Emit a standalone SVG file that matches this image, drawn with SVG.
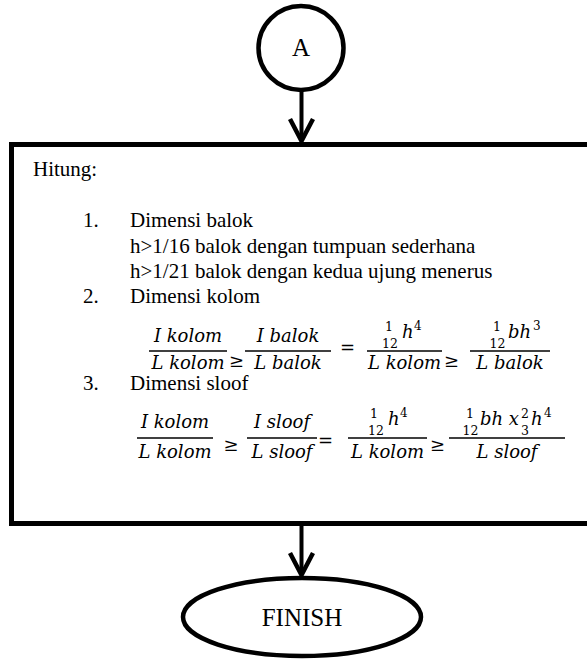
<svg xmlns="http://www.w3.org/2000/svg" width="587" height="660" viewBox="0 0 587 660">
  <style>
    .shape { fill: #ffffff; stroke: #000000; }
    .conn { stroke: #000000; stroke-width: 4; fill: none; }
    .body { font-family: "Liberation Serif", "Times New Roman", serif; font-size: 21px; fill: #000000; }
    .big { font-family: "Liberation Serif", "Times New Roman", serif; font-size: 25px; fill: #000000; }
    .m { font-family: "DejaVu Serif", serif; font-style: italic; font-size: 18px; fill: #000000; }
    .op { font-family: "DejaVu Serif", serif; font-size: 18px; fill: #000000; }
    .sm { font-family: "DejaVu Serif", serif; font-size: 12.5px; fill: #000000; }
    .sup { font-family: "DejaVu Serif", serif; font-size: 12px; fill: #000000; }
    .bar { stroke: #000000; stroke-width: 1.6; }
  </style>
  <defs>
    <marker id="chevron" viewBox="-26 -15 30 30" refX="0" refY="0" markerWidth="30" markerHeight="30" markerUnits="userSpaceOnUse" orient="auto">
      <path d="M-22,-11.5 L0,0 L-22,11.5" fill="none" stroke="#000000" stroke-width="4.5" stroke-linejoin="miter"/>
    </marker>
  </defs>

  <!-- connectors -->
  <g id="connectors">
    <line class="conn" x1="301.5" y1="91" x2="301.5" y2="141" marker-end="url(#chevron)"/>
    <line class="conn" x1="301.5" y1="525" x2="301.5" y2="575" marker-end="url(#chevron)"/>
  </g>

  <!-- connector A -->
  <g id="node-a">
    <ellipse class="shape" cx="301" cy="48" rx="42.5" ry="42" stroke-width="4.5"/>
    <text class="big" x="301" y="56" text-anchor="middle" font-size="24">A</text>
  </g>

  <!-- process box -->
  <g id="node-hitung">
    <rect class="shape" x="11.5" y="144.5" width="600" height="379" stroke-width="5"/>
    <text class="body" x="33" y="176">Hitung:</text>

    <text class="body" x="83" y="227">1.</text>
    <text class="body" x="130" y="227">Dimensi balok</text>
    <text class="body" x="130" y="253">h&gt;1/16 balok dengan tumpuan sederhana</text>
    <text class="body" x="130" y="278">h&gt;1/21 balok dengan kedua ujung menerus</text>

    <text class="body" x="83" y="303">2.</text>
    <text class="body" x="130" y="303">Dimensi kolom</text>

    <!-- column equation -->
    <g id="eq-kolom">
      <line class="bar" x1="149" y1="351" x2="227" y2="351"/>
      <text class="m" x="188" y="342" text-anchor="middle">I kolom</text>
      <text class="m" x="188" y="369" text-anchor="middle">L kolom</text>
      <text class="op" x="236.5" y="367" text-anchor="middle">≥</text>

      <line class="bar" x1="245" y1="351" x2="331" y2="351"/>
      <text class="m" x="288" y="342" text-anchor="middle">I balok</text>
      <text class="m" x="288" y="369" text-anchor="middle">L balok</text>
      <text class="op" x="347.5" y="354" text-anchor="middle">=</text>

      <line class="bar" x1="367" y1="351" x2="442" y2="351"/>
      <text class="sm" x="389" y="331" text-anchor="middle">1</text>
      <text class="sm" x="390" y="348" text-anchor="middle">12</text>
      <text class="m" x="402" y="338">h</text>
      <text class="sup" x="414" y="330">4</text>
      <text class="m" x="404.5" y="369" text-anchor="middle">L kolom</text>
      <text class="op" x="451.5" y="367" text-anchor="middle">≥</text>

      <line class="bar" x1="470" y1="351" x2="550" y2="351"/>
      <text class="sm" x="497" y="331" text-anchor="middle">1</text>
      <text class="sm" x="497.5" y="348" text-anchor="middle">12</text>
      <text class="m" x="508" y="338">bh</text>
      <text class="sup" x="533" y="330">3</text>
      <text class="m" x="510" y="369" text-anchor="middle">L balok</text>
    </g>

    <text class="body" x="83" y="390">3.</text>
    <text class="body" x="130" y="390">Dimensi sloof</text>

    <!-- tie beam equation -->
    <g id="eq-sloof">
      <line class="bar" x1="137" y1="438" x2="213" y2="438"/>
      <text class="m" x="175" y="428" text-anchor="middle">I kolom</text>
      <text class="m" x="175" y="458" text-anchor="middle">L kolom</text>
      <text class="op" x="231" y="451" text-anchor="middle">≥</text>

      <line class="bar" x1="247" y1="438" x2="317" y2="438"/>
      <text class="m" x="282" y="428" text-anchor="middle">I sloof</text>
      <text class="m" x="282" y="458" text-anchor="middle">L sloof</text>
      <text class="op" x="325.5" y="447" text-anchor="middle">=</text>

      <line class="bar" x1="348" y1="438" x2="427" y2="438"/>
      <text class="sm" x="374" y="418" text-anchor="middle">1</text>
      <text class="sm" x="376" y="435" text-anchor="middle">12</text>
      <text class="m" x="388" y="425">h</text>
      <text class="sup" x="400" y="417">4</text>
      <text class="m" x="387.5" y="458" text-anchor="middle">L kolom</text>
      <text class="op" x="437.5" y="451" text-anchor="middle">≥</text>

      <line class="bar" x1="449" y1="438" x2="565" y2="438"/>
      <text class="sm" x="470" y="418" text-anchor="middle">1</text>
      <text class="sm" x="470.5" y="435" text-anchor="middle">12</text>
      <text class="m" x="480" y="425">bh x</text>
      <text class="sm" x="525" y="418" text-anchor="middle">2</text>
      <text class="sm" x="525" y="435" text-anchor="middle">3</text>
      <text class="m" x="531" y="425">h</text>
      <text class="sup" x="544" y="417">4</text>
      <text class="m" x="507" y="458" text-anchor="middle">L sloof</text>
    </g>
  </g>

  <!-- terminator -->
  <g id="node-finish">
    <ellipse class="shape" cx="302" cy="617" rx="119" ry="39" stroke-width="4.5"/>
    <text class="big" x="302" y="626" text-anchor="middle">FINISH</text>
  </g>
</svg>
